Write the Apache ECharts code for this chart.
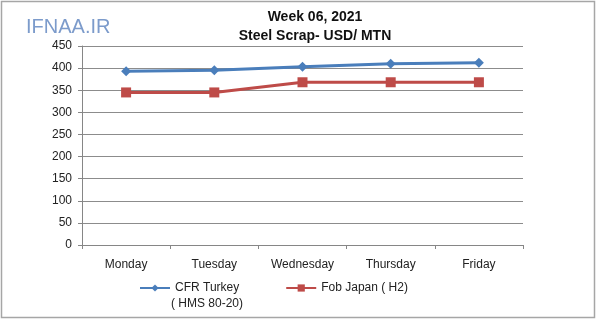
<!DOCTYPE html>
<html>
<head>
<meta charset="utf-8">
<script src="https://cdn.jsdelivr.net/npm/echarts@6/dist/echarts.min.js"></script>
<style>html,body{margin:0;padding:0;background:#fff;}#c{width:600px;height:336px;}</style>
</head>
<body>
<div id="c"></div>
<script>
var categories = ['Monday', 'Tuesday', 'Wednesday', 'Thursday', 'Friday'];
var cfrTurkey = [393, 395, 403, 410, 412];
var fobJapan = [345, 345, 368, 368, 368];
var yTicks = [0, 50, 100, 150, 200, 250, 300, 350, 400, 450];
var seriesNames = ['CFR Turkey', 'Fob Japan ( H2)'];
var legendSecondLine = '( HMS 80-20)';
var titleText = 'Week 06, 2021';
var subtitleText = 'Steel Scrap- USD/ MTN';
var logoText = 'IFNAA.IR';

var chart = echarts.init(document.getElementById('c'), null, {renderer: 'canvas'});
var font = 'Liberation Sans';
chart.setOption({
  animation: false,
  backgroundColor: '#fff',
  title: {
    text: titleText,
    subtext: subtitleText,
    left: 310,
    textAlign: 'center',
    top: 5,
    itemGap: 5,
    textStyle: {fontFamily: font, fontSize: 14, fontWeight: 'bold', color: '#111'},
    subtextStyle: {fontFamily: font, fontSize: 14, fontWeight: 'bold', color: '#111'}
  },
  graphic: [
    {type: 'rect', shape: {x: 1.5, y: 1.5, width: 593, height: 316}, style: {fill: 'none', stroke: '#a6a6a6', lineWidth: 1.5}, silent: true},
    {type: 'text', left: 26, top: 17, style: {text: logoText, fontFamily: font, fontSize: 20, fill: '#7c9bcb'}},
    {type: 'text', left: 171, top: 298, style: {text: legendSecondLine, fontFamily: font, fontSize: 12, fill: '#222'}}
  ],
  grid: {left: 82, right: 77, top: 46, bottom: 91, containLabel: false},
  legend: {
    left: 134,
    top: 277,
    itemWidth: 30,
    itemHeight: 9,
    itemGap: 46,
    textStyle: {fontFamily: font, fontSize: 12, color: '#222'},
    data: seriesNames
  },
  xAxis: {
    type: 'category',
    data: categories,
    boundaryGap: true,
    axisLine: {lineStyle: {color: '#868686'}},
    axisTick: {show: true, alignWithLabel: false, length: 4, lineStyle: {color: '#868686'}},
    axisLabel: {fontFamily: font, fontSize: 12, color: '#222', margin: 14}
  },
  yAxis: {
    type: 'value',
    min: yTicks[0],
    max: yTicks[yTicks.length - 1],
    interval: yTicks[1] - yTicks[0],
    axisLine: {show: true, lineStyle: {color: '#868686'}},
    axisTick: {show: true, length: 4, lineStyle: {color: '#868686'}},
    splitLine: {lineStyle: {color: '#8c8c8c', width: 1}},
    axisLabel: {fontFamily: font, fontSize: 12, color: '#222', margin: 10}
  },
  series: [
    {
      name: seriesNames[0], type: 'line', data: cfrTurkey,
      symbol: 'diamond', symbolSize: 10,
      lineStyle: {color: '#4a7ebb', width: 3},
      itemStyle: {color: '#4a7ebb'}
    },
    {
      name: seriesNames[1], type: 'line', data: fobJapan,
      symbol: 'rect', symbolSize: 10,
      lineStyle: {color: '#be4b48', width: 3},
      itemStyle: {color: '#be4b48'}
    }
  ]
});
</script>
</body>
</html>
